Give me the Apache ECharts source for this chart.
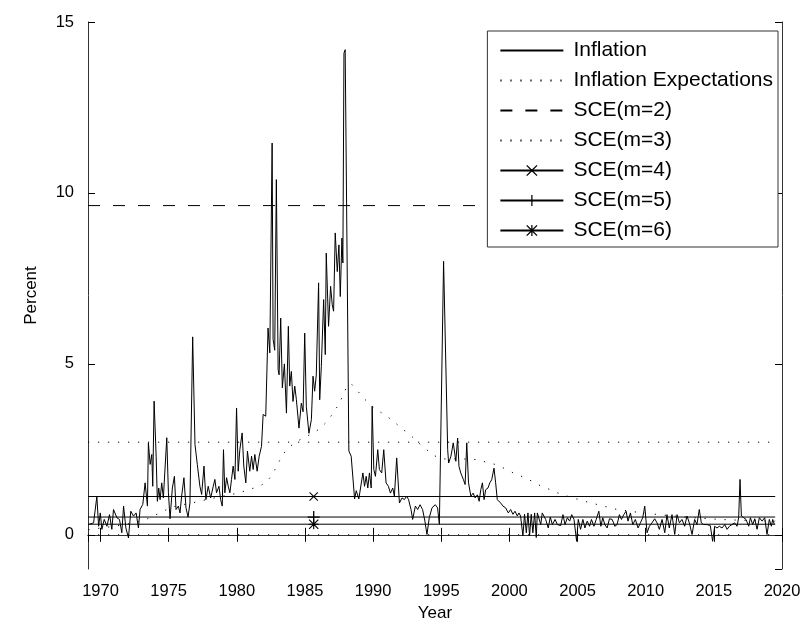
<!DOCTYPE html>
<html>
<head>
<meta charset="utf-8">
<script src="https://cdn.jsdelivr.net/npm/echarts@6/dist/echarts.min.js"></script>
<style>
html,body{margin:0;padding:0;background:#fff;}
#chart{width:800px;height:623px;}
</style>
</head>
<body>
<div id="chart"></div>
<script>
// ---------- data ----------
const xStart = 1969.08;   // first month shown
const xEnd = 2019.5;      // last month of data
const axisMaxYear = 2020;

const infYears = [
1969.12,1969.49,1969.73,1969.86,1969.98,1970.10,1970.27,1970.47,1970.66,1970.83,1970.95,
1971.20,1971.39,1971.56,1971.69,1971.86,1972.05,1972.22,1972.42,1972.61,1972.78,1972.90,
1973.10,1973.27,1973.44,1973.51,1973.64,1973.76,1973.83,1973.93,1974.08,1974.17,1974.27,
1974.37,1974.49,1974.61,1974.86,1974.98,1975.10,1975.27,1975.42,1975.54,1975.71,1975.83,
1975.95,1976.12,1976.27,1976.42,1976.56,1976.76,1976.93,1977.10,1977.29,1977.42,1977.59,
1977.73,1977.90,1978.08,1978.27,1978.39,1978.51,1978.69,1978.81,1978.93,1979.02,1979.12,
1979.25,1979.37,1979.49,1979.61,1979.73,1979.86,1979.98,1980.10,1980.22,1980.39,1980.51,
1980.66,1980.78,1980.95,1981.08,1981.20,1981.32,1981.49,1981.64,1981.81,1981.93,1982.12,
1982.29,1982.42,1982.59,1982.66,1982.78,1982.90,1983.03,1983.10,1983.22,1983.34,1983.49,
1983.64,1983.78,1983.88,1984.00,1984.12,1984.25,1984.37,1984.56,1984.73,1984.86,1984.98,
1985.10,1985.29,1985.47,1985.59,1985.71,1985.83,1986.00,1986.08,1986.20,1986.37,1986.49,
1986.56,1986.73,1986.88,1987.00,1987.10,1987.22,1987.37,1987.49,1987.59,1987.71,1987.78,
1987.86,1987.95,1988.22,1988.39,1988.64,1988.76,1988.95,1989.00,1989.25,1989.37,1989.49,
1989.61,1989.73,1989.86,1989.93,1990.05,1990.17,1990.34,1990.46,1990.63,1990.78,1990.95,
1991.12,1991.27,1991.44,1991.56,1991.73,1991.93,1992.12,1992.29,1992.46,1992.60,1992.78,
1992.90,1993.10,1993.27,1993.44,1993.63,1993.80,1993.95,1994.12,1994.32,1994.56,1994.73,
1994.86,1995.17,1995.47,1995.54,1995.71,1995.88,1996.00,1996.07,1996.20,1996.30,1996.43,
1996.63,1996.75,1996.87,1997.00,1997.17,1997.34,1997.48,1997.65,1997.78,1997.90,1998.02,
1998.14,1998.26,1998.43,1998.56,1998.70,1998.87,1998.99,1999.11,1999.36,1999.53,1999.72,
1999.92,2000.09,2000.26,2000.41,2000.58,2000.70,2000.82,2000.99,2001.11,2001.24,2001.36,
2001.48,2001.60,2001.72,2001.85,2001.97,2002.05,2002.30,2002.41,2002.66,2002.85,2003.00,
2003.15,2003.35,2003.52,2003.76,2003.93,2004.08,2004.25,2004.42,2004.57,2004.74,2004.93,
2005.05,2005.22,2005.39,2005.54,2005.71,2005.88,2006.02,2006.20,2006.37,2006.56,2006.71,
2006.85,2007.00,2007.17,2007.34,2007.54,2007.73,2007.90,2008.07,2008.22,2008.39,2008.56,
2008.70,2008.88,2009.05,2009.24,2009.44,2009.61,2009.78,2009.93,2010.10,2010.27,2010.46,
2010.66,2010.83,2011.00,2011.20,2011.40,2011.56,2011.73,2011.93,2012.13,2012.30,2012.47,
2012.66,2012.86,2013.03,2013.20,2013.40,2013.59,2013.76,2013.93,2014.08,2014.25,2014.50,
2014.74,2014.91,2015.06,2015.23,2015.40,2015.60,2015.80,2015.97,2016.14,2016.33,2016.53,
2016.70,2016.82,2016.92,2017.02,2017.19,2017.36,2017.56,2017.68,2017.85,2018.00,2018.17,
2018.34,2018.54,2018.73,2018.90,2019.07,2019.22,2019.32,2019.44
];
const infValues = [
0.30,0.35,1.12,0.25,0.64,0.16,0.45,0.25,0.59,0.16,0.74,
0.50,0.45,0.06,0.84,0.20,-0.09,0.69,0.55,0.64,0.20,0.74,
0.89,1.52,0.84,2.69,2.06,2.35,1.42,3.91,2.30,0.98,1.37,
1.03,1.52,1.08,2.84,1.23,0.47,1.37,1.71,0.74,0.84,0.64,
1.13,1.67,0.79,0.52,0.93,5.79,2.64,2.06,1.42,1.18,2.01,
1.03,1.42,1.08,1.42,1.62,1.23,1.42,1.03,0.84,2.49,1.23,
1.67,1.42,1.23,1.62,2.01,1.62,3.71,1.86,2.49,2.98,2.01,
1.52,2.45,1.86,2.30,1.91,2.35,1.86,2.30,2.59,3.52,3.47,
6.05,5.32,11.46,5.72,5.40,10.39,4.83,4.68,6.34,4.30,5.00,
3.56,6.10,4.35,4.78,3.90,4.35,3.95,3.12,3.85,3.60,5.90,
3.75,2.97,3.37,4.64,4.20,4.68,7.37,3.95,4.93,6.88,5.27,
8.24,6.10,7.27,6.73,6.54,8.83,7.70,8.48,6.97,8.68,7.95,
14.09,14.19,2.45,2.30,1.05,1.29,1.05,1.08,1.81,1.42,1.71,
1.37,1.81,1.37,3.76,1.91,1.71,2.49,1.91,1.81,2.49,1.52,
1.42,1.22,1.37,1.13,2.25,0.93,1.08,1.03,1.13,1.03,0.74,
0.45,0.84,0.74,0.88,0.74,0.40,0.01,0.50,0.79,0.88,0.79,
0.31,8.00,2.49,2.10,2.30,2.69,2.74,2.15,2.83,2.00,1.81,
1.61,1.47,2.69,1.52,1.13,1.22,1.08,1.17,0.98,1.32,1.52,
1.03,1.32,1.37,1.52,1.61,1.95,1.52,1.03,0.93,0.84,0.79,
0.64,0.74,0.60,0.69,0.55,0.64,0.55,-0.03,0.60,0.06,0.64,
-0.03,0.60,0.06,0.64,-0.08,0.64,0.30,0.64,0.45,0.20,0.52,
0.30,0.45,0.30,0.27,0.59,0.30,0.50,0.40,0.59,0.45,-0.19,
0.45,0.16,0.45,0.20,0.40,0.25,0.45,0.25,0.45,0.69,0.25,
0.50,0.30,0.20,0.47,0.45,0.25,0.30,0.59,0.45,0.59,0.69,
0.40,0.64,0.30,0.45,0.20,0.35,0.50,0.84,0.06,0.25,0.35,
0.47,0.35,0.16,0.45,0.06,0.59,0.20,0.59,0.01,0.59,0.35,
0.45,0.25,0.55,0.35,0.01,0.45,0.30,0.74,0.35,0.30,0.30,
0.27,-0.19,0.25,0.20,0.25,0.20,0.30,0.16,0.25,0.30,0.35,
0.25,0.50,1.62,0.55,0.50,0.45,0.25,0.50,0.30,0.47,0.16,
0.50,0.40,0.50,0.01,0.45,0.25,0.45,0.30
];

const expYears = [
1969.10,1971.00,1972.50,1973.44,1974.86,1975.50,1976.70,1978.00,1980.20,1980.90,1981.56,
1982.17,1982.60,1982.95,1983.34,1983.68,1984.24,1984.86,1985.50,1986.08,1986.56,1987.00,
1987.42,1987.74,1988.03,1988.39,1988.88,1989.37,1989.93,1990.46,1991.07,1991.64,1992.20,
1992.78,1993.30,1993.90,1994.40,1995.05,1996.50,1997.66,1998.32,1999.05,1999.69,2000.35,
2001.07,2001.70,2002.30,2003.00,2003.70,2004.40,2005.10,2005.80,2006.50,2007.20,2007.90,
2008.70,2009.40,2010.50,2012.00,2013.50,2014.60,2016.00,2017.50,2019.50
];
const expValues = [
0.15,0.25,0.35,0.47,0.74,0.84,0.93,1.05,1.23,1.33,1.40,
1.54,1.76,2.03,2.32,2.51,2.69,2.83,2.96,3.10,3.29,3.52,
3.78,4.03,4.30,4.42,4.20,3.97,3.76,3.61,3.45,3.27,3.08,
2.90,2.70,2.50,2.33,2.22,2.22,2.20,2.12,2.05,1.93,1.80,
1.68,1.56,1.43,1.32,1.20,1.11,1.03,0.95,0.88,0.81,0.74,
0.70,0.66,0.61,0.55,0.50,0.47,0.44,0.42,0.40
];

const sceNames = ['SCE(m=2)','SCE(m=3)','SCE(m=4)','SCE(m=5)','SCE(m=6)'];
const sceValues = [9.63, 2.71, 1.12, 0.52, 0.31];
const sceMarkerYear = 1985.64;
const zeroLineValue = 0;
const yTickMin = -1, yTickMax = 15;

// ---------- chart ----------
const FONT = "'Liberation Sans', Arial, Helvetica, sans-serif";
const DOT = [1.2, 8.8];
const DASH = [12, 13];
const P_X = 'path://M0,0.8 L0.8,0 L5,4.2 L9.2,0 L10,0.8 L5.8,5 L10,9.2 L9.2,10 L5,5.8 L0.8,10 L0,9.2 L4.2,5 Z';
const P_PLUS = 'path://M4.45,0 L5.55,0 L5.55,4.45 L10,4.45 L10,5.55 L5.55,5.55 L5.55,10 L4.45,10 L4.45,5.55 L0,5.55 L0,4.45 L4.45,4.45 Z';
const P_STAR = 'path://M0,0.8 L0.8,0 L5,4.2 L9.2,0 L10,0.8 L5.8,5 L10,9.2 L9.2,10 L5,5.8 L0.8,10 L0,9.2 L4.2,5 Z M4.45,0 L5.55,0 L5.55,4.45 L10,4.45 L10,5.55 L5.55,5.55 L5.55,10 L4.45,10 L4.45,5.55 L0,5.55 L0,4.45 L4.45,4.45 Z';

const infData = infYears.map((y, i) => [y, infValues[i]]);
const expData = expYears.map((y, i) => [y, expValues[i]]);

function flatLine(v, withMarker) {
  if (!withMarker) return [[xStart, v], [xEnd, v]];
  return [
    {value: [xStart, v], symbol: 'none'},
    {value: [sceMarkerYear, v]},
    {value: [xEnd, v], symbol: 'none'}
  ];
}

const lineBase = {type: 'line', animation: false, silent: true};
const hiddenMark = {color: '#000', opacity: 0};
const shownMark = {color: '#000'};
const sceTypes = [
  {type: DASH, symbol: 'none', size: 0},
  {type: DOT, symbol: 'none', size: 0},
  {type: 'solid', symbol: P_X, size: 9},
  {type: 'solid', symbol: P_PLUS, size: 12},
  {type: 'solid', symbol: P_STAR, size: 10}
];

const series = [
  Object.assign({}, lineBase, {name: 'Inflation', data: infData, symbol: 'none', showSymbol: false,
    itemStyle: hiddenMark, lineStyle: {color: '#000', width: 1}, z: 5}),
  Object.assign({}, lineBase, {name: 'Inflation Expectations', data: expData, symbol: 'none', showSymbol: false,
    itemStyle: hiddenMark, lineStyle: {color: '#000', width: 1, type: DOT}})
];
sceNames.forEach((n, i) => {
  const t = sceTypes[i];
  const hasMarker = t.symbol !== 'none';
  series.push(Object.assign({}, lineBase, {
    name: n, data: flatLine(sceValues[i], hasMarker), symbol: t.symbol, symbolSize: t.size,
    showSymbol: hasMarker, itemStyle: hasMarker ? shownMark : hiddenMark,
    lineStyle: {color: '#000', width: 1, type: t.type}
  }));
});
series.push(Object.assign({}, lineBase, {name: 'zero', data: [[xStart, zeroLineValue], [xEnd, zeroLineValue]],
  symbol: 'none', showSymbol: false, itemStyle: hiddenMark, lineStyle: {color: '#000', width: 1, type: DOT}}));

const axisLine = {show: true, lineStyle: {color: '#333', width: 1}};
const axisTick = {show: true, inside: true, length: 7, lineStyle: {color: '#000', width: 1}};

const option = {
  animation: false,
  backgroundColor: '#fff',
  grid: {left: 88, right: 18, top: 22, bottom: 54, containLabel: false, outerBoundsMode: 'none'},
  legend: {
    orient: 'vertical', right: 22, top: 31,
    padding: [9, 5, 6, 12],
    itemWidth: 63, itemHeight: 14, itemGap: 9,
    borderColor: '#333', borderWidth: 1, backgroundColor: '#fff',
    textStyle: {fontFamily: FONT, fontSize: 21, color: '#000', lineHeight: 20, padding: [0, 0, 0, 5]},
    data: ['Inflation', 'Inflation Expectations'].concat(sceNames),
    selectedMode: false
  },
  xAxis: [
    {type: 'value', position: 'bottom', min: xStart, max: axisMaxYear, splitNumber: 10,
     axisLine, axisTick, splitLine: {show: false},
     axisLabel: {fontFamily: FONT, fontSize: 16.5, color: '#000', margin: 14, showMinLabel: false,
       formatter: v => (Math.abs(v % 5) < 1e-6 ? String(Math.round(v)) : '')},
     name: 'Year', nameLocation: 'middle', nameGap: 36,
     nameTextStyle: {fontFamily: FONT, fontSize: 17, color: '#000'}},
    {type: 'value', position: 'top', min: xStart, max: axisMaxYear, splitNumber: 10,
     axisLine, axisTick, splitLine: {show: false}, axisLabel: {show: false}}
  ],
  yAxis: [
    {type: 'value', position: 'left', min: yTickMin, max: yTickMax, splitNumber: 3,
     axisLine, axisTick, splitLine: {show: false},
     axisLabel: {fontFamily: FONT, fontSize: 16.5, color: '#000', margin: 14, showMinLabel: false,
       formatter: v => (Math.abs(v % 5) < 1e-6 ? String(Math.round(v)) : '')},
     name: 'Percent', nameLocation: 'middle', nameGap: 48, nameRotate: 90,
     nameTextStyle: {fontFamily: FONT, fontSize: 17, color: '#000'}},
    {type: 'value', position: 'right', min: yTickMin, max: yTickMax, splitNumber: 3,
     axisLine, axisTick, splitLine: {show: false}, axisLabel: {show: false}}
  ],
  series
};

const chart = echarts.init(document.getElementById('chart'), null, {renderer: 'canvas'});
chart.setOption(option);
</script>
</body>
</html>
